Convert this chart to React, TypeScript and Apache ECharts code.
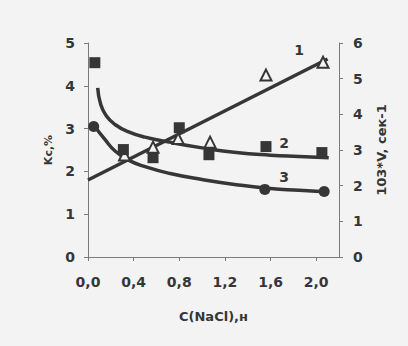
import React, { useEffect, useRef } from "react";
import * as echarts from "echarts";

// Curve 1 (straight line, right axis)
const line1: number[][] = [
  [0.0, 2.16],
  [2.1, 5.55],
];
// Triangles (right axis, 10^3*V)
const triangles: number[][] = [
  [0.32, 2.86],
  [0.57, 3.08],
  [0.79, 3.32],
  [1.07, 3.22],
  [1.56, 5.1],
  [2.06, 5.46],
];
// Curve 2 (left axis, Kc %)
const curve2: number[][] = [
  [0.085, 3.95],
  [0.11, 3.58],
  [0.16, 3.3],
  [0.24, 3.09],
  [0.35, 2.93],
  [0.5, 2.8],
  [0.7, 2.69],
  [1.0, 2.55],
  [1.3, 2.44],
  [1.6, 2.38],
  [1.85, 2.35],
  [2.11, 2.32],
];
// Squares (left axis)
const squares: number[][] = [
  [0.06, 4.54],
  [0.31, 2.51],
  [0.57, 2.32],
  [0.8, 3.02],
  [1.06, 2.39],
  [1.56, 2.58],
  [2.05, 2.44],
];
// Curve 3 (left axis)
const curve3: number[][] = [
  [0.06, 3.05],
  [0.15, 2.74],
  [0.24, 2.47],
  [0.35, 2.27],
  [0.5, 2.11],
  [0.72, 1.95],
  [1.0, 1.81],
  [1.3, 1.69],
  [1.6, 1.6],
  [1.85, 1.56],
  [2.11, 1.52],
];
// Circles (left axis)
const circles: number[][] = [
  [0.05, 3.05],
  [1.55, 1.58],
  [2.07, 1.53],
];
// Curve number labels
const labelRight: (number | string)[][] = [[1.85, 5.8, "1"]];
const labelLeft: (number | string)[][] = [
  [1.72, 2.67, "2"],
  [1.72, 1.87, "3"],
];

const xTicks = { min: 0, max: 2.2, interval: 0.4 };
const leftTicks = { min: 0, max: 5, interval: 1 };
const rightTicks = { min: 0, max: 6, interval: 1 };

const INK = "#363636";
const BG = "#f3f3f3";
const FONT = "DejaVu Sans";

export default function App() {
  const ref = useRef<HTMLDivElement>(null);
  useEffect(() => {
    if (!ref.current) return;
    const chart = echarts.init(ref.current, null, { renderer: "svg" });
    const axisLine = { show: true, lineStyle: { color: "#7a7a7a", width: 1 } };
    const axisTick = { show: true, length: 4, lineStyle: { color: "#7a7a7a" } };
    const axisLabelBase = {
      color: INK,
      fontFamily: FONT,
      fontWeight: "bold" as const,
      fontSize: 14,
    };
    const curveStyle = { color: INK, width: 3.5 };
    const numLabel = {
      show: true,
      position: "inside",
      formatter: (p: any) => p.value[2],
      color: INK,
      fontFamily: FONT,
      fontWeight: "bold",
      fontSize: 14,
    };
    chart.setOption({
      animation: false,
      backgroundColor: BG,
      grid: { left: 88, right: 69, top: 43, bottom: 89 },
      xAxis: {
        type: "value",
        ...xTicks,
        name: "C(NaCl),н",
        nameLocation: "middle",
        nameGap: 53,
        nameTextStyle: { color: INK, fontFamily: FONT, fontWeight: "bold", fontSize: 13 },
        axisLine,
        axisTick,
        splitLine: { show: false },
        axisLabel: {
          ...axisLabelBase,
          margin: 18,
          showMaxLabel: false,
          formatter: (v: number) => v.toFixed(1).replace(".", ","),
        },
      },
      yAxis: [
        {
          type: "value",
          position: "left",
          ...leftTicks,
          name: "Kc,%",
          nameLocation: "middle",
          nameRotate: 90,
          nameGap: 34,
          nameTextStyle: { color: INK, fontFamily: FONT, fontWeight: "bold", fontSize: 11 },
          axisLine,
          axisTick,
          splitLine: { show: false },
          axisLabel: { ...axisLabelBase, margin: 13 },
        },
        {
          type: "value",
          position: "right",
          ...rightTicks,
          name: "103*V, сек-1",
          nameLocation: "middle",
          nameRotate: 90,
          nameGap: 36,
          nameTextStyle: { color: INK, fontFamily: FONT, fontWeight: "bold", fontSize: 13 },
          axisLine,
          axisTick,
          splitLine: { show: false },
          axisLabel: { ...axisLabelBase, margin: 14 },
        },
      ],
      series: [
        {
          type: "line",
          yAxisIndex: 1,
          data: line1,
          symbol: "none",
          lineStyle: curveStyle,
          z: 2,
        },
        {
          type: "line",
          yAxisIndex: 0,
          data: curve2,
          smooth: 0.5,
          symbol: "none",
          lineStyle: curveStyle,
          z: 2,
        },
        {
          type: "line",
          yAxisIndex: 0,
          data: curve3,
          smooth: 0.5,
          symbol: "none",
          lineStyle: curveStyle,
          z: 2,
        },
        {
          type: "scatter",
          yAxisIndex: 1,
          data: triangles,
          symbol: "triangle",
          symbolSize: [11, 11],
          itemStyle: { color: BG, borderColor: INK, borderWidth: 2, opacity: 1 },
          z: 3,
        },
        {
          type: "scatter",
          yAxisIndex: 0,
          data: squares,
          symbol: "rect",
          symbolSize: 11,
          itemStyle: { color: INK, opacity: 1 },
          z: 4,
        },
        {
          type: "scatter",
          yAxisIndex: 0,
          data: circles,
          symbol: "circle",
          symbolSize: 11,
          itemStyle: { color: INK, opacity: 1 },
          z: 4,
        },
        {
          type: "scatter",
          yAxisIndex: 1,
          data: labelRight,
          symbolSize: 0,
          itemStyle: { opacity: 1 },
          label: numLabel,
          z: 5,
        },
        {
          type: "scatter",
          yAxisIndex: 0,
          data: labelLeft,
          symbolSize: 0,
          itemStyle: { opacity: 1 },
          label: numLabel,
          z: 5,
        },
      ],
    });
    return () => chart.dispose();
  }, []);
  return (
    <div
      ref={ref}
      style={{ position: "absolute", left: 0, top: 0, width: 408, height: 346 }}
    />
  );
}
